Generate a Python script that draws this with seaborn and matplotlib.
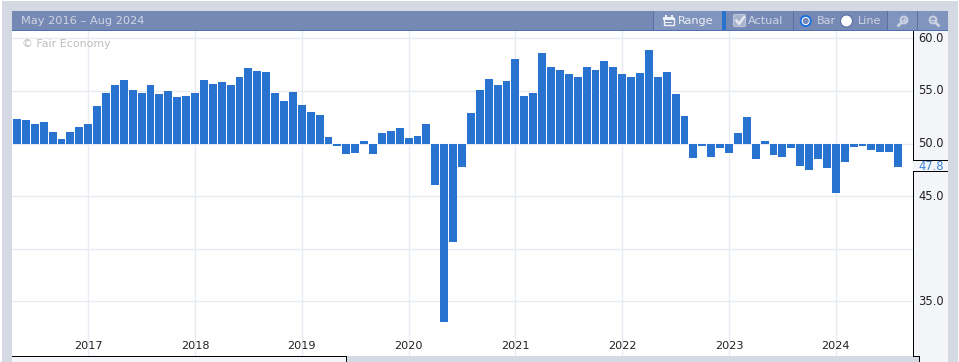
import numpy as np
import pandas as pd
import seaborn as sns
import matplotlib.pyplot as plt
from matplotlib.patches import Rectangle, Circle, FancyBboxPatch

# monthly readings, May 2016 - Aug 2024
y2016 = [52.3, 52.2, 51.9, 52.0, 51.1, 50.4, 51.1, 51.6]
y2017 = [51.9, 53.6, 54.8, 55.6, 56.0, 55.1, 54.8, 55.6, 54.7, 55.0, 54.4, 54.5]
y2018 = [54.8, 56.0, 55.7, 55.8, 55.6, 56.3, 57.2, 56.9, 56.8, 54.8, 54.0, 54.9]
y2019 = [53.7, 53.0, 52.7, 50.6, 49.8, 49.0, 49.1, 50.2, 49.0, 51.0, 51.2, 51.5]
y2020 = [50.5, 50.7, 51.9, 46.1, 33.0, 40.6, 47.8, 52.9, 55.1, 56.1, 55.6, 55.9]
y2021 = [58.0, 54.5, 54.8, 58.6, 57.3, 57.0, 56.6, 56.3, 57.3, 57.0, 57.8, 57.3]
y2022 = [56.6, 56.3, 56.7, 58.9, 56.3, 56.8, 54.7, 52.6, 48.6, 49.8, 48.7, 49.6]
y2023 = [49.1, 51.0, 52.5, 48.5, 50.2, 48.9, 48.7, 49.6, 47.9, 47.5, 48.5, 47.7]
y2024 = [45.3, 48.2, 49.7, 49.8, 49.4, 49.2, 49.2, 47.8]

year_labels = ['2017', '2018', '2019', '2020', '2021', '2022', '2023', '2024']
y_ticks = [35, 40, 45, 50, 55, 60]
y_labels = ['35.0', '40.0', '45.0', '50.0', '55.0', '60.0']

values = y2016 + y2017 + y2018 + y2019 + y2020 + y2021 + y2022 + y2023 + y2024
df = pd.DataFrame({'month': np.arange(len(values)), 'value': values})
df['height'] = df['value'] - 50

W, H = 959, 362
GREY = '#d5d9e3'
PANEL = '#f4f5f9'
HEAD = '#7689b4'
BTN = '#8194bd'
HEAD_TXT = '#cfd5e4'
ICON = '#c9d0e1'

plt.rcParams['font.family'] = ['DejaVu Sans']
fig = plt.figure(figsize=(W / 100, H / 100), dpi=100, facecolor='white')

# chrome layer in pixel coords
bg = fig.add_axes([0, 0, 1, 1])
bg.set_xlim(0, W)
bg.set_ylim(H, 0)
bg.axis('off')


def box(x, y, w, h, c, z=1):
    bg.add_patch(Rectangle((x, y), w, h, fc=c, ec='none', zorder=z))


box(2, 1, W - 3, H - 1, GREY)
box(12, 11, 936, 20, HEAD)
box(12, 30, 936, 1, '#4f6fae', 2)
box(12, 31, 901, 325, 'white')
box(913, 31, 35, 331, PANEL)
box(913, 31, 1, 129, 'black', 3)
box(913, 160, 35, 1, 'black', 3)
box(913, 171, 35, 1, 'black', 3)
box(913, 171, 1, 185, 'black', 3)
box(12, 356, 334, 6, PANEL)
box(12, 356, 334, 1, 'black', 3)
box(346, 356, 1, 6, 'black', 3)
box(347, 356, 572, 6, GREY, 2)
box(913, 356, 7, 1, 'black', 3)
box(919, 356, 1, 6, 'black', 3)

# header buttons
box(654, 11, 69, 19, BTN, 2)
box(722, 11, 4, 19, '#2a73cc', 3)
box(887, 11, 30, 19, BTN, 2)
box(917, 11, 31, 19, BTN, 2)
for sx in [653, 793, 887, 917]:
    box(sx, 11, 1, 19, '#5a70a3', 3)

bg.text(21, 21, 'May 2016 – Aug 2024', color=HEAD_TXT, fontsize=8.2, va='center', zorder=4)
bg.text(678, 21, 'Range', color='#eef1f7', fontsize=8.1, va='center', zorder=4)
bg.text(748, 21, 'Actual', color=HEAD_TXT, fontsize=8.1, va='center', zorder=4)
bg.text(817, 21, 'Bar', color=HEAD_TXT, fontsize=8.1, va='center', zorder=4)
bg.text(858, 21, 'Line', color=HEAD_TXT, fontsize=8.1, va='center', zorder=4)

# calendar icon
bg.add_patch(Rectangle((663.5, 17.5), 10, 7.5, fc='none', ec='#eef1f7', lw=1, zorder=4))
box(663, 17, 11, 2.5, '#eef1f7', 4)
box(665, 15, 1.5, 2, '#eef1f7', 4)
box(671, 15, 1.5, 2, '#eef1f7', 4)
box(665, 21.5, 7, 1, '#eef1f7', 4)

# checkbox
bg.add_patch(FancyBboxPatch((735, 16), 9, 9, boxstyle='round,pad=1.5', fc='#a8b3cd', ec='#bcc5da', lw=0.8, zorder=4))
bg.plot([736.5, 739, 744], [20.5, 24, 17], color='#e4e8f1', lw=1.8, zorder=5)

# radio buttons
bg.add_patch(Circle((805.7, 21), 6, fc='#1a6fe0', ec='none', zorder=4))
bg.add_patch(Circle((805.7, 21), 4.1, fc='white', ec='none', zorder=5))
bg.add_patch(Circle((805.7, 21), 3.1, fc=HEAD, ec='none', zorder=6))
bg.add_patch(Circle((846.5, 21), 6, fc='white', ec='#5a70a3', lw=0.8, zorder=4))

# zoom glasses
bg.add_patch(Circle((904, 20), 3.4, fc=BTN, ec=ICON, lw=1.5, zorder=4))
bg.plot([901.5, 898.5], [22.5, 25.5], color=ICON, lw=2, zorder=4)
bg.plot([902, 906], [20, 20], color=ICON, lw=1, zorder=5)
bg.plot([904, 904], [18, 22], color=ICON, lw=1, zorder=5)
bg.add_patch(Circle((933, 20), 3.4, fc=BTN, ec=ICON, lw=1.5, zorder=4))
bg.plot([935.5, 938.5], [22.5, 25.5], color=ICON, lw=2, zorder=4)
bg.plot([931, 935], [20, 20], color=ICON, lw=1, zorder=5)

# plot area: 12..913 x 31..356 px, y value 60 at 38.3, 35 at 301.3
x0, x1, y0, y1 = 12, 913, 31, 356
ax = fig.add_axes([x0 / W, 1 - y1 / H, (x1 - x0) / W, (y1 - y0) / H], zorder=2)
ax.patch.set_alpha(0)

sns.barplot(data=df, x='month', y='height', bottom=50, native_scale=True, width=0.89,
            color='#2873cf', saturation=1, linewidth=0, ax=ax)

ax.set_xlim(-0.56, 100.67)
px_per_unit = 10.52
ax.set_ylim(60 - (y1 - 38.3) / px_per_unit, 60 + (38.3 - y0) / px_per_unit)

year_pos = [8 + 12 * i for i in range(len(year_labels))]
ax.set_xticks(year_pos)
ax.set_xticklabels(year_labels)
ax.set_yticks(y_ticks)
ax.set_yticklabels([])
ax.set_xlabel('')
ax.set_ylabel('')
ax.grid(True, color='#e9ebf2', lw=1)
ax.set_axisbelow(True)
ax.tick_params(length=0, axis='both')
ax.tick_params(axis='x', direction='in', pad=-11, labelsize=8.1, labelcolor='#222222')
for s in ax.spines.values():
    s.set_visible(False)

ax.text(0.011, 0.96, '© Fair Economy', transform=ax.transAxes, color='#bdbdbd', fontsize=7.9, va='center')

# right hand scale labels, the 40.0 label sits behind nothing in the source so it is left out
for t, lab in zip(y_ticks, y_labels):
    if t != 40:
        py = 38.3 + (60 - t) * px_per_unit
        bg.text(918, py, lab, color='#222222', fontsize=8.3, va='center', zorder=5)
bg.text(918, 166, f'{values[-1]:.1f}', color='#3b82d6', fontsize=8.3, va='center', zorder=5)

fig.savefig('out.png', dpi=100)
